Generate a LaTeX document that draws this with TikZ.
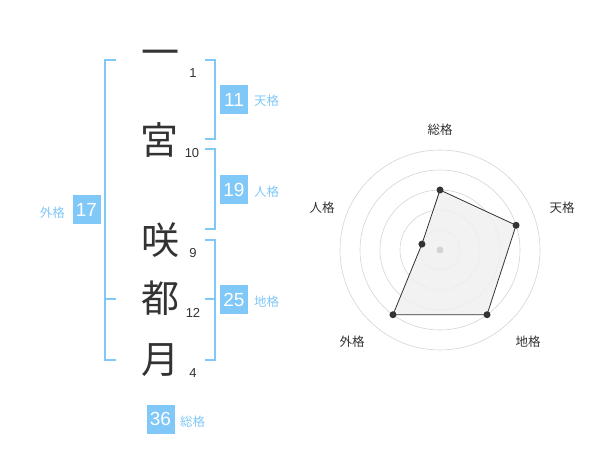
\documentclass[tikz,border=0pt]{standalone}
\usepackage{fontspec}
\setmainfont{Liberation Sans}
\newfontfamily\jpfont{Noto Sans CJK JP}
\usetikzlibrary{calc}
\definecolor{kakublue}{HTML}{80C8F8}
\definecolor{inkgray}{HTML}{333333}
\definecolor{ringgray}{HTML}{D4D4D4}
\definecolor{areagray}{HTML}{F0F0F0}
\tikzset{
	kanji/.style={inner sep=0, text=inkgray, font=\jpfont\fontsize{38}{38}\selectfont},
	strokes/.style={inner sep=0, text=inkgray, font=\fontsize{13}{13}\selectfont},
	kakubox/.style={fill=kakublue, text=white, minimum width=28pt, minimum height=29pt, inner sep=0, font=\fontsize{19}{19}\selectfont},
	kakulabel/.style={inner sep=0, text=kakublue, font=\jpfont\fontsize{12.5}{12.5}\selectfont},
	axislabel/.style={inner sep=0, text=inkgray, font=\jpfont\fontsize{12.5}{12.5}\selectfont},
	bracket/.style={line width=1.8pt, color=kakublue},
	ring/.style={line width=0.6pt, color=ringgray},
	dot/.style={circle, fill=inkgray, inner sep=0, minimum size=7pt},
}
\begin{document}
\begin{tikzpicture}[x=1pt, y=-1pt]
			%%%%% START %%%%%
			\useasboundingbox (0, 0) rectangle (600, 470);
			
			\node[kanji] (ichi) at (160, 58) {一};
			\node[kanji] (miya) at (159, 140) {宮};
			\node[kanji] (saki) at (160, 240) {咲};
			\node[kanji] (to) at (160, 298) {都};
			\node[kanji] (tsuki) at (160, 360) {月};
			
			\node[strokes] (n1) at (193, 73) {1};
			\node[strokes] (n10) at (192, 153) {10};
			\node[strokes] (n9) at (193, 253) {9};
			\node[strokes] (n12) at (193, 313) {12};
			\node[strokes] (n4) at (193, 373) {4};
			
			\draw[bracket] (205, 60) -- (215, 60) -- (215, 139) -- (205, 139);
			\draw[bracket] (205, 149) -- (215, 149) -- (215, 229) -- (205, 229);
			\draw[bracket] (205, 240) -- (215, 240) -- (215, 360) -- (205, 360);
			\draw[bracket] (205, 299) -- (215, 299);
			\draw[bracket] (116, 60) -- (105, 60) -- (105, 360) -- (116, 360);
			\draw[bracket] (105, 299) -- (116, 299);
			
			\node[kakubox] (ten) at (234, 100) {11};
			\node[kakulabel, anchor=west] (tenlbl) at (254, 101) {天格};
			\node[kakubox] (jin) at (234, 190) {19};
			\node[kakulabel, anchor=west] (jinlbl) at (254, 192) {人格};
			\node[kakubox] (chi) at (234, 300) {25};
			\node[kakulabel, anchor=west] (chilbl) at (254, 302) {地格};
			\node[kakubox] (gai) at (86.5, 210) {17};
			\node[kakulabel, anchor=east] (gailbl) at (65, 213) {外格};
			\node[kakubox] (sou) at (160.5, 419) {36};
			\node[kakulabel, anchor=west] (soulbl) at (180, 422) {総格};
			
			% radar
			\coordinate (c) at (440, 250);
			\foreach \r in {20, 40, 60, 80, 100}
				\draw[ring] (c) circle (\r pt);
			
			\coordinate (psou) at ($(c)+(90:60pt)$);
			\coordinate (pten) at ($(c)+(18:80pt)$);
			\coordinate (pchi) at ($(c)+(-54:80pt)$);
			\coordinate (pgai) at ($(c)+(-126:80pt)$);
			\coordinate (pjin) at ($(c)+(162:19pt)$);
			\draw[line width=0.8pt, color=inkgray, fill=areagray, fill opacity=0.85] (psou) -- (pten) -- (pchi) -- (pgai) -- (pjin) -- cycle;
			\node[circle, fill=ringgray, inner sep=0, minimum size=7pt] (mid) at (c) {};
			\foreach \p in {psou, pten, pchi, pgai, pjin}
				\node[dot] at (\p) {};
			
			\node[axislabel] (asou) at (440, 130) {総格};
			\node[axislabel] (aten) at (562, 208) {天格};
			\node[axislabel] (achi) at (528, 342) {地格};
			\node[axislabel] (agai) at (352, 342) {外格};
			\node[axislabel] (ajin) at (322, 208) {人格};
			
			%%%%% END %%%%%
\end{tikzpicture}
\end{document}
